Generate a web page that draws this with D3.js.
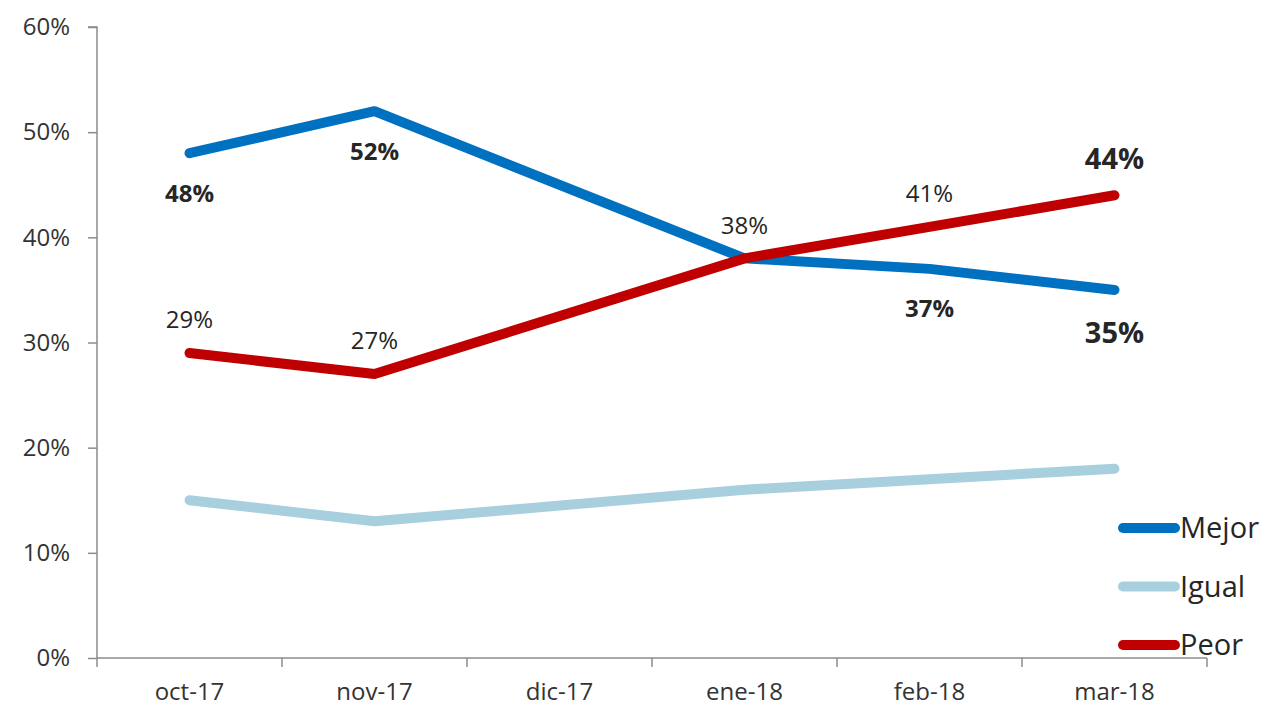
<!DOCTYPE html>
<html><head><meta charset="utf-8">
<script src="https://cdn.jsdelivr.net/npm/d3@7"></script>
<style>body{margin:0;background:#fff}svg{display:block;font-family:"Open Sans",sans-serif}</style>
</head><body><svg id="c" width="1270" height="709"></svg>
<script>
const categories = ["oct-17","nov-17","dic-17","ene-18","feb-18","mar-18"];
const mejor = [48, 52, null, 38, 37, 35];
const igual = [15, 13, null, 16, 17, 18];
const peor  = [29, 27, null, 38, 41, 44];
const yTicks = [0,10,20,30,40,50,60];
const seriesNames = ["Mejor","Igual","Peor"];
const colors = ["#0070C0","#A8CFDD","#C00000"];

const svg = d3.select("#c");
const x = d3.scaleBand().domain(categories).range([97,1207]);
const y = d3.scaleLinear().domain([0,60]).range([658,27]);
const axisColor = "#8c8c8c";

// y axis
const ya = svg.append("g").attr("transform","translate(97,0)")
  .call(d3.axisLeft(y).tickValues(yTicks).tickFormat(d=>d+"%").tickSize(9).tickPadding(18));
ya.select(".domain").attr("stroke",axisColor).attr("stroke-width",1.5).attr("d","M-9,27H0V658");
ya.selectAll(".tick line").attr("stroke",axisColor).attr("stroke-width",1.5);
ya.selectAll("text").attr("font-size",24).attr("fill","#333").attr("font-family","Open Sans");

// x axis
const xa = svg.append("g").attr("transform","translate(0,658)")
  .call(d3.axisBottom(x).tickSize(0).tickPadding(25));
xa.select(".domain").attr("stroke",axisColor).attr("stroke-width",1.5).attr("d","M97,0H1207");
xa.selectAll("text").attr("font-size",24).attr("fill","#333").attr("font-family","Open Sans");
const bounds = categories.map(c=>x(c)).concat([1207]);
xa.selectAll(".bt").data(bounds).join("line").attr("class","bt")
  .attr("x1",d=>d).attr("x2",d=>d).attr("y1",0).attr("y2",9)
  .attr("stroke",axisColor).attr("stroke-width",1.5);

const cx = c => x(c)+x.bandwidth()/2;
const all = [mejor, igual, peor];
const line = d3.line().defined(d=>d.v!=null).x(d=>cx(d.c)).y(d=>y(d.v));
// draw order: igual, mejor, peor
[1,0,2].forEach(i=>{
  const pts = categories.map((c,j)=>({c, v: all[i][j]})).filter(d=>d.v!=null);
  svg.append("path").datum(pts).attr("d",line).attr("fill","none")
    .attr("stroke",colors[i]).attr("stroke-width",10)
    .attr("stroke-linecap","round").attr("stroke-linejoin","round");
});

// data labels
const labels = [];
mejor.forEach((v,j)=>{ if(v!=null && j!==3) labels.push({c:categories[j], v, pos:"below", bold:true, big:j===5}); });
peor.forEach((v,j)=>{ if(v!=null) labels.push({c:categories[j], v, pos:"above", bold:j===5, big:j===5}); });
svg.selectAll(".lbl").data(labels).join("text")
  .attr("x",d=>cx(d.c))
  .attr("y",d=>y(d.v) + (d.pos==="below" ? (d.big?43:40) : (d.big?-36:-33)))
  .attr("dy","0.35em")
  .attr("text-anchor","middle")
  .attr("font-size",d=>d.big?29:24)
  .attr("font-weight",d=>d.bold?"bold":"normal")
  .attr("fill","#262626")
  .text(d=>d.v+"%");

// legend
const lg = svg.append("g");
seriesNames.forEach((n,i)=>{
  const yy = 528 + i*58.5;
  lg.append("line").attr("x1",1123).attr("x2",1175).attr("y1",yy).attr("y2",yy)
    .attr("stroke",colors[i]).attr("stroke-width",10).attr("stroke-linecap","round");
  lg.append("text").attr("x",1180).attr("y",yy).attr("dy","0.35em")
    .attr("font-size",29).attr("fill","#262626").text(n);
});
</script></body></html>
